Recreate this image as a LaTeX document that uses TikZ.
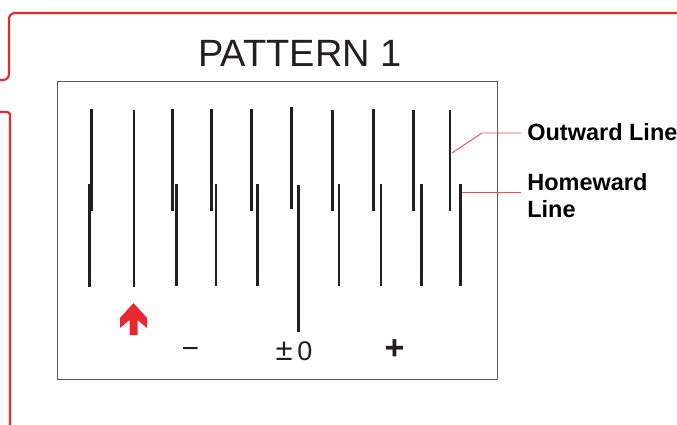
\documentclass[tikz,border=0pt]{standalone}
\usepackage{fontspec}
\setmainfont{Liberation Sans}
\usepackage{xcolor}
\usetikzlibrary{positioning}

\definecolor{framered}{HTML}{E8282E}
\definecolor{pointred}{HTML}{EE4B50}
\definecolor{tickblack}{HTML}{231F20}

\begin{document}
\begin{tikzpicture}[x=1pt,y=-1pt,semithick]
	\tikzstyle{frame}=[draw=framered, line width=2.2pt]
	\tikzstyle{tick}=[draw=tickblack, line width=2.6pt]
	\tikzstyle{pointer}=[draw=pointred, line width=0.9pt]
	\tikzstyle{tag}=[font=\bfseries\fontsize{23.5}{27}\selectfont, text=black, inner xsep=6pt, inner ysep=0pt, align=left]
	\tikzstyle{scale label}=[text=tickblack, anchor=base, inner sep=0pt]

	\useasboundingbox (0,0) rectangle (677,425);

	% red frame
	\draw[frame, rounded corners=6pt] (0,80) -- (9,80) -- (9,13) -- (680,13);
	\draw[frame, rounded corners=3pt] (0,112) -- (10,112) -- (10,426);

	\node[anchor=base, inner sep=0pt, font=\fontsize{38}{40}\selectfont, text=tickblack] (title) at (300,67) {PATTERN 1};

	\draw[draw=black!65, line width=1pt] (57,82) rectangle (497,379);

	% outward lines
	\foreach \x/\a/\b in {91.3/109/211, 172.7/109/211, 211.7/109/211, 251.7/109/211, 291.7/107/209,
		332.7/110/211, 373.7/109/211, 413.3/110/211, 450/110/211}
		\draw[tick] (\x,\a) -- (\x,\b);
	% homeward lines
	\foreach \x/\a/\b in {89.7/184/287, 176.3/184/286, 216/184/286, 257.7/184/286, 298.3/185/332,
		339/184/286, 381/184/286, 421.7/184/286, 460.3/184/286}
		\draw[tick] (\x,\a) -- (\x,\b);
	% start line
	\draw[tick] (134,110) -- (134,287);

	% red arrow
	\fill[framered] (133.5,303) -- (147,318) -- (147,328) -- (137.5,320) -- (137.5,335)
		-- (129.5,335) -- (129.5,320) -- (120,328) -- (120,318) -- cycle;

	\node[scale label, font=\fontsize{30}{30}\selectfont] (minus) at (190.5,358) {−};
	\node[scale label, font=\fontsize{27}{27}\selectfont] (zero) at (294,360.7) {{\fontsize{31}{31}\selectfont ±}\,0};
	\node[scale label, font=\bfseries\fontsize{34}{34}\selectfont] (plus) at (394.5,359) {+};

	% labels
	\node[tag, anchor=base west] (outward) at (521,141) {Outward Line};
	\node[tag, anchor=base west] (homeward) at (521,217.3) {Homeward\\Line};

	\coordinate (outpt) at (452,153);
	\coordinate (outbend) at (482,133);
	\coordinate (homept) at (461.7,192.3);
	\draw[pointer] (outpt) -- (outbend) -- (outbend -| outward.west);
	\draw[pointer] (homept) -- (homept -| homeward.west);
\end{tikzpicture}
\end{document}
